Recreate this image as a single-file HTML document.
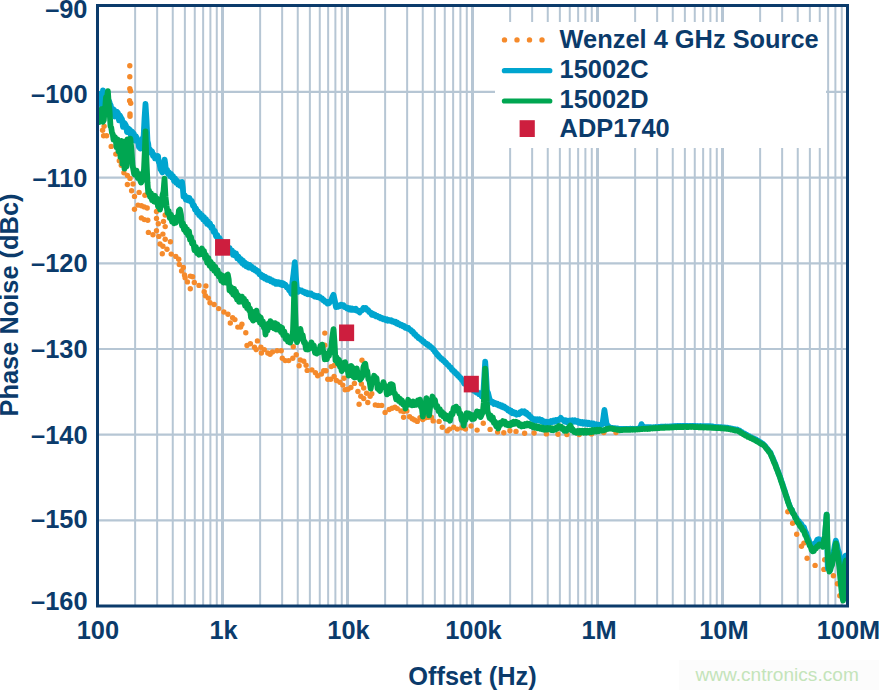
<!DOCTYPE html>
<html><head><meta charset="utf-8"><style>
html,body{margin:0;padding:0;background:#fff;}
body{width:879px;height:690px;overflow:hidden;}
svg{display:block;}
text{font-family:"Liberation Sans",sans-serif;font-weight:bold;fill:#0b3b6b;font-size:25.4px;}
</style></head><body>
<svg width="879" height="690" viewBox="0 0 879 690">
<rect width="879" height="690" fill="#fff"/>
<defs><clipPath id="pc"><rect x="99" y="7" width="747" height="597"/></clipPath></defs>
<g>
<line x1="135.13" y1="6" x2="135.13" y2="605" stroke="#b6c6d4" stroke-width="2"/>
<line x1="157.14" y1="6" x2="157.14" y2="605" stroke="#b6c6d4" stroke-width="2"/>
<line x1="172.76" y1="6" x2="172.76" y2="605" stroke="#b6c6d4" stroke-width="2"/>
<line x1="184.87" y1="6" x2="184.87" y2="605" stroke="#b6c6d4" stroke-width="2"/>
<line x1="194.77" y1="6" x2="194.77" y2="605" stroke="#b6c6d4" stroke-width="2"/>
<line x1="203.14" y1="6" x2="203.14" y2="605" stroke="#b6c6d4" stroke-width="2"/>
<line x1="210.39" y1="6" x2="210.39" y2="605" stroke="#b6c6d4" stroke-width="2"/>
<line x1="216.78" y1="6" x2="216.78" y2="605" stroke="#b6c6d4" stroke-width="2"/>
<line x1="222.50" y1="6" x2="222.50" y2="605" stroke="#b6c6d4" stroke-width="3"/>
<line x1="260.13" y1="6" x2="260.13" y2="605" stroke="#b6c6d4" stroke-width="2"/>
<line x1="282.14" y1="6" x2="282.14" y2="605" stroke="#b6c6d4" stroke-width="2"/>
<line x1="297.76" y1="6" x2="297.76" y2="605" stroke="#b6c6d4" stroke-width="2"/>
<line x1="309.87" y1="6" x2="309.87" y2="605" stroke="#b6c6d4" stroke-width="2"/>
<line x1="319.77" y1="6" x2="319.77" y2="605" stroke="#b6c6d4" stroke-width="2"/>
<line x1="328.14" y1="6" x2="328.14" y2="605" stroke="#b6c6d4" stroke-width="2"/>
<line x1="335.39" y1="6" x2="335.39" y2="605" stroke="#b6c6d4" stroke-width="2"/>
<line x1="341.78" y1="6" x2="341.78" y2="605" stroke="#b6c6d4" stroke-width="2"/>
<line x1="347.50" y1="6" x2="347.50" y2="605" stroke="#b6c6d4" stroke-width="3"/>
<line x1="385.13" y1="6" x2="385.13" y2="605" stroke="#b6c6d4" stroke-width="2"/>
<line x1="407.14" y1="6" x2="407.14" y2="605" stroke="#b6c6d4" stroke-width="2"/>
<line x1="422.76" y1="6" x2="422.76" y2="605" stroke="#b6c6d4" stroke-width="2"/>
<line x1="434.87" y1="6" x2="434.87" y2="605" stroke="#b6c6d4" stroke-width="2"/>
<line x1="444.77" y1="6" x2="444.77" y2="605" stroke="#b6c6d4" stroke-width="2"/>
<line x1="453.14" y1="6" x2="453.14" y2="605" stroke="#b6c6d4" stroke-width="2"/>
<line x1="460.39" y1="6" x2="460.39" y2="605" stroke="#b6c6d4" stroke-width="2"/>
<line x1="466.78" y1="6" x2="466.78" y2="605" stroke="#b6c6d4" stroke-width="2"/>
<line x1="472.50" y1="6" x2="472.50" y2="605" stroke="#b6c6d4" stroke-width="3"/>
<line x1="510.13" y1="6" x2="510.13" y2="605" stroke="#b6c6d4" stroke-width="2"/>
<line x1="532.14" y1="6" x2="532.14" y2="605" stroke="#b6c6d4" stroke-width="2"/>
<line x1="547.76" y1="6" x2="547.76" y2="605" stroke="#b6c6d4" stroke-width="2"/>
<line x1="559.87" y1="6" x2="559.87" y2="605" stroke="#b6c6d4" stroke-width="2"/>
<line x1="569.77" y1="6" x2="569.77" y2="605" stroke="#b6c6d4" stroke-width="2"/>
<line x1="578.14" y1="6" x2="578.14" y2="605" stroke="#b6c6d4" stroke-width="2"/>
<line x1="585.39" y1="6" x2="585.39" y2="605" stroke="#b6c6d4" stroke-width="2"/>
<line x1="591.78" y1="6" x2="591.78" y2="605" stroke="#b6c6d4" stroke-width="2"/>
<line x1="597.50" y1="6" x2="597.50" y2="605" stroke="#b6c6d4" stroke-width="3"/>
<line x1="635.13" y1="6" x2="635.13" y2="605" stroke="#b6c6d4" stroke-width="2"/>
<line x1="657.14" y1="6" x2="657.14" y2="605" stroke="#b6c6d4" stroke-width="2"/>
<line x1="672.76" y1="6" x2="672.76" y2="605" stroke="#b6c6d4" stroke-width="2"/>
<line x1="684.87" y1="6" x2="684.87" y2="605" stroke="#b6c6d4" stroke-width="2"/>
<line x1="694.77" y1="6" x2="694.77" y2="605" stroke="#b6c6d4" stroke-width="2"/>
<line x1="703.14" y1="6" x2="703.14" y2="605" stroke="#b6c6d4" stroke-width="2"/>
<line x1="710.39" y1="6" x2="710.39" y2="605" stroke="#b6c6d4" stroke-width="2"/>
<line x1="716.78" y1="6" x2="716.78" y2="605" stroke="#b6c6d4" stroke-width="2"/>
<line x1="722.50" y1="6" x2="722.50" y2="605" stroke="#b6c6d4" stroke-width="3"/>
<line x1="760.13" y1="6" x2="760.13" y2="605" stroke="#b6c6d4" stroke-width="2"/>
<line x1="782.14" y1="6" x2="782.14" y2="605" stroke="#b6c6d4" stroke-width="2"/>
<line x1="797.76" y1="6" x2="797.76" y2="605" stroke="#b6c6d4" stroke-width="2"/>
<line x1="809.87" y1="6" x2="809.87" y2="605" stroke="#b6c6d4" stroke-width="2"/>
<line x1="819.77" y1="6" x2="819.77" y2="605" stroke="#b6c6d4" stroke-width="2"/>
<line x1="828.14" y1="6" x2="828.14" y2="605" stroke="#b6c6d4" stroke-width="2"/>
<line x1="835.39" y1="6" x2="835.39" y2="605" stroke="#b6c6d4" stroke-width="2"/>
<line x1="841.78" y1="6" x2="841.78" y2="605" stroke="#b6c6d4" stroke-width="2"/>
<line x1="98" y1="91.97" x2="847" y2="91.97" stroke="#b6c6d4" stroke-width="2.2"/>
<line x1="98" y1="177.64" x2="847" y2="177.64" stroke="#b6c6d4" stroke-width="2.2"/>
<line x1="98" y1="263.31" x2="847" y2="263.31" stroke="#b6c6d4" stroke-width="2.2"/>
<line x1="98" y1="348.98" x2="847" y2="348.98" stroke="#b6c6d4" stroke-width="2.2"/>
<line x1="98" y1="434.65" x2="847" y2="434.65" stroke="#b6c6d4" stroke-width="2.2"/>
<line x1="98" y1="520.32" x2="847" y2="520.32" stroke="#b6c6d4" stroke-width="2.2"/>
</g>
<rect x="495" y="22" width="331" height="126" fill="#fff"/>
<g clip-path="url(#pc)">
<g fill="#f58a2b">
<circle cx="129.8" cy="65.7" r="2.7"/>
<circle cx="129.8" cy="76.7" r="2.7"/>
<circle cx="129.8" cy="88.7" r="2.7"/>
<circle cx="130.5" cy="90.9" r="2.7"/>
<circle cx="129.6" cy="100.7" r="2.7"/>
<circle cx="130.7" cy="103.2" r="2.7"/>
<circle cx="130.0" cy="113.9" r="2.7"/>
<circle cx="130.0" cy="116.2" r="2.7"/>
<circle cx="471.0" cy="426.0" r="2.7"/>
<circle cx="477.1" cy="430.1" r="2.7"/>
<circle cx="483.3" cy="423.2" r="2.7"/>
<circle cx="490.1" cy="429.4" r="2.7"/>
<circle cx="497.6" cy="432.1" r="2.7"/>
<circle cx="503.8" cy="432.8" r="2.7"/>
<circle cx="509.9" cy="430.8" r="2.7"/>
<circle cx="516.0" cy="431.4" r="2.7"/>
<circle cx="524.6" cy="433.2" r="2.7"/>
<circle cx="534.1" cy="433.0" r="2.7"/>
<circle cx="546.4" cy="433.9" r="2.7"/>
<circle cx="558.0" cy="434.3" r="2.7"/>
<circle cx="566.9" cy="434.6" r="2.7"/>
<circle cx="579.2" cy="434.6" r="2.7"/>
<circle cx="591.5" cy="433.9" r="2.7"/>
<circle cx="603.8" cy="432.6" r="2.7"/>
<circle cx="616.0" cy="432.6" r="2.7"/>
<circle cx="787.8" cy="511.7" r="2.7"/>
<circle cx="792.6" cy="523.3" r="2.7"/>
<circle cx="796.7" cy="534.3" r="2.7"/>
<circle cx="801.5" cy="546.3" r="2.7"/>
<circle cx="803.9" cy="543.1" r="2.7"/>
<circle cx="807.1" cy="558.2" r="2.7"/>
<circle cx="815.1" cy="565.4" r="2.7"/>
<circle cx="823.9" cy="569.4" r="2.7"/>
<circle cx="824.7" cy="559.8" r="2.7"/>
<circle cx="833.4" cy="575.8" r="2.7"/>
<circle cx="837.4" cy="583.7" r="2.7"/>
<circle cx="839.8" cy="595.7" r="2.7"/>
<circle cx="171.2" cy="254.1" r="2.7"/>
<circle cx="175.8" cy="256.4" r="2.7"/>
<circle cx="178.7" cy="259.3" r="2.7"/>
<circle cx="179.3" cy="264.5" r="2.7"/>
<circle cx="183.3" cy="267.4" r="2.7"/>
<circle cx="181.6" cy="270.9" r="2.7"/>
<circle cx="184.5" cy="274.9" r="2.7"/>
<circle cx="185.1" cy="277.8" r="2.7"/>
<circle cx="187.4" cy="281.9" r="2.7"/>
<circle cx="190.3" cy="276.1" r="2.7"/>
<circle cx="192.6" cy="276.7" r="2.7"/>
<circle cx="194.3" cy="282.5" r="2.7"/>
<circle cx="199.0" cy="285.4" r="2.7"/>
<circle cx="190.3" cy="288.8" r="2.7"/>
<circle cx="205.9" cy="286.0" r="2.7"/>
<circle cx="204.2" cy="291.7" r="2.7"/>
<circle cx="205.4" cy="295.8" r="2.7"/>
<circle cx="208.3" cy="298.1" r="2.7"/>
<circle cx="210.0" cy="302.8" r="2.7"/>
<circle cx="214.1" cy="304.5" r="2.7"/>
<circle cx="218.7" cy="308.6" r="2.7"/>
<circle cx="223.9" cy="312.0" r="2.7"/>
<circle cx="228.0" cy="314.3" r="2.7"/>
<circle cx="232.6" cy="317.8" r="2.7"/>
<circle cx="234.9" cy="319.6" r="2.7"/>
<circle cx="230.3" cy="323.0" r="2.7"/>
<circle cx="237.8" cy="327.1" r="2.7"/>
<circle cx="241.9" cy="324.2" r="2.7"/>
<circle cx="240.6" cy="327.0" r="2.7"/>
<circle cx="245.8" cy="332.8" r="2.7"/>
<circle cx="257.4" cy="340.9" r="2.7"/>
<circle cx="247.0" cy="345.5" r="2.7"/>
<circle cx="250.4" cy="343.8" r="2.7"/>
<circle cx="254.5" cy="347.2" r="2.7"/>
<circle cx="256.2" cy="349.6" r="2.7"/>
<circle cx="260.9" cy="347.2" r="2.7"/>
<circle cx="261.4" cy="353.0" r="2.7"/>
<circle cx="264.3" cy="349.6" r="2.7"/>
<circle cx="267.8" cy="353.0" r="2.7"/>
<circle cx="270.1" cy="354.2" r="2.7"/>
<circle cx="272.5" cy="351.9" r="2.7"/>
<circle cx="277.1" cy="350.7" r="2.7"/>
<circle cx="281.2" cy="350.7" r="2.7"/>
<circle cx="282.3" cy="358.3" r="2.7"/>
<circle cx="285.2" cy="360.6" r="2.7"/>
<circle cx="288.7" cy="360.6" r="2.7"/>
<circle cx="292.8" cy="358.3" r="2.7"/>
<circle cx="296.2" cy="354.8" r="2.7"/>
<circle cx="293.3" cy="346.7" r="2.7"/>
<circle cx="300.3" cy="360.0" r="2.7"/>
<circle cx="303.8" cy="361.2" r="2.7"/>
<circle cx="299.1" cy="365.8" r="2.7"/>
<circle cx="306.1" cy="365.2" r="2.7"/>
<circle cx="307.2" cy="370.4" r="2.7"/>
<circle cx="311.9" cy="369.9" r="2.7"/>
<circle cx="315.4" cy="372.8" r="2.7"/>
<circle cx="317.7" cy="375.7" r="2.7"/>
<circle cx="104.1" cy="126.2" r="2.7"/>
<circle cx="102.6" cy="130.2" r="2.7"/>
<circle cx="103.6" cy="135.8" r="2.7"/>
<circle cx="106.6" cy="135.8" r="2.7"/>
<circle cx="111.2" cy="146.4" r="2.7"/>
<circle cx="115.8" cy="154.1" r="2.7"/>
<circle cx="119.3" cy="160.7" r="2.7"/>
<circle cx="121.3" cy="165.2" r="2.7"/>
<circle cx="123.9" cy="172.8" r="2.7"/>
<circle cx="127.4" cy="175.4" r="2.7"/>
<circle cx="130.0" cy="178.4" r="2.7"/>
<circle cx="127.4" cy="184.5" r="2.7"/>
<circle cx="133.0" cy="184.0" r="2.7"/>
<circle cx="131.6" cy="190.7" r="2.7"/>
<circle cx="134.5" cy="196.4" r="2.7"/>
<circle cx="139.1" cy="192.4" r="2.7"/>
<circle cx="144.9" cy="195.3" r="2.7"/>
<circle cx="138.0" cy="205.1" r="2.7"/>
<circle cx="141.4" cy="205.7" r="2.7"/>
<circle cx="144.3" cy="206.9" r="2.7"/>
<circle cx="147.2" cy="208.0" r="2.7"/>
<circle cx="134.5" cy="209.2" r="2.7"/>
<circle cx="156.5" cy="211.5" r="2.7"/>
<circle cx="165.2" cy="215.0" r="2.7"/>
<circle cx="141.4" cy="217.9" r="2.7"/>
<circle cx="144.3" cy="219.6" r="2.7"/>
<circle cx="147.8" cy="220.2" r="2.7"/>
<circle cx="156.5" cy="218.5" r="2.7"/>
<circle cx="158.3" cy="223.7" r="2.7"/>
<circle cx="163.5" cy="221.4" r="2.7"/>
<circle cx="165.2" cy="226.6" r="2.7"/>
<circle cx="148.4" cy="232.4" r="2.7"/>
<circle cx="153.0" cy="234.7" r="2.7"/>
<circle cx="156.5" cy="230.7" r="2.7"/>
<circle cx="158.8" cy="236.4" r="2.7"/>
<circle cx="162.9" cy="234.1" r="2.7"/>
<circle cx="165.2" cy="239.3" r="2.7"/>
<circle cx="170.4" cy="241.7" r="2.7"/>
<circle cx="160.0" cy="244.0" r="2.7"/>
<circle cx="162.9" cy="246.3" r="2.7"/>
<circle cx="167.0" cy="249.2" r="2.7"/>
<circle cx="162.3" cy="253.8" r="2.7"/>
<circle cx="321.4" cy="374.1" r="2.7"/>
<circle cx="323.7" cy="370.7" r="2.7"/>
<circle cx="326.0" cy="370.7" r="2.7"/>
<circle cx="331.2" cy="366.6" r="2.7"/>
<circle cx="334.1" cy="365.4" r="2.7"/>
<circle cx="327.8" cy="379.3" r="2.7"/>
<circle cx="330.7" cy="379.3" r="2.7"/>
<circle cx="334.1" cy="376.4" r="2.7"/>
<circle cx="336.4" cy="380.5" r="2.7"/>
<circle cx="339.9" cy="382.2" r="2.7"/>
<circle cx="342.8" cy="385.1" r="2.7"/>
<circle cx="345.1" cy="389.8" r="2.7"/>
<circle cx="348.0" cy="389.2" r="2.7"/>
<circle cx="350.9" cy="387.5" r="2.7"/>
<circle cx="354.4" cy="383.4" r="2.7"/>
<circle cx="344.0" cy="378.2" r="2.7"/>
<circle cx="362.0" cy="360.2" r="2.7"/>
<circle cx="361.4" cy="384.0" r="2.7"/>
<circle cx="363.7" cy="388.0" r="2.7"/>
<circle cx="357.9" cy="391.5" r="2.7"/>
<circle cx="360.8" cy="396.2" r="2.7"/>
<circle cx="363.7" cy="398.5" r="2.7"/>
<circle cx="359.1" cy="404.3" r="2.7"/>
<circle cx="366.6" cy="393.3" r="2.7"/>
<circle cx="370.1" cy="396.2" r="2.7"/>
<circle cx="371.8" cy="393.8" r="2.7"/>
<circle cx="367.8" cy="402.5" r="2.7"/>
<circle cx="375.3" cy="404.9" r="2.7"/>
<circle cx="378.2" cy="405.4" r="2.7"/>
<circle cx="381.7" cy="405.4" r="2.7"/>
<circle cx="385.1" cy="412.4" r="2.7"/>
<circle cx="389.2" cy="409.5" r="2.7"/>
<circle cx="392.1" cy="408.3" r="2.7"/>
<circle cx="395.0" cy="407.3" r="2.7"/>
<circle cx="397.3" cy="408.6" r="2.7"/>
<circle cx="400.9" cy="410.9" r="2.7"/>
<circle cx="403.6" cy="411.4" r="2.7"/>
<circle cx="406.8" cy="410.9" r="2.7"/>
<circle cx="403.6" cy="417.3" r="2.7"/>
<circle cx="409.6" cy="416.8" r="2.7"/>
<circle cx="412.3" cy="418.7" r="2.7"/>
<circle cx="414.6" cy="420.0" r="2.7"/>
<circle cx="417.3" cy="421.4" r="2.7"/>
<circle cx="420.0" cy="417.7" r="2.7"/>
<circle cx="422.8" cy="419.6" r="2.7"/>
<circle cx="425.5" cy="417.7" r="2.7"/>
<circle cx="428.2" cy="417.3" r="2.7"/>
<circle cx="431.4" cy="417.3" r="2.7"/>
<circle cx="433.2" cy="420.9" r="2.7"/>
<circle cx="439.1" cy="421.4" r="2.7"/>
<circle cx="442.3" cy="427.3" r="2.7"/>
<circle cx="447.3" cy="430.9" r="2.7"/>
<circle cx="449.6" cy="429.1" r="2.7"/>
<circle cx="453.7" cy="427.3" r="2.7"/>
<circle cx="457.3" cy="429.1" r="2.7"/>
<circle cx="461.9" cy="427.8" r="2.7"/>
<circle cx="465.5" cy="429.1" r="2.7"/>
<circle cx="324.8" cy="333.1" r="2.7"/>
<circle cx="324.8" cy="345.3" r="2.7"/>
</g>
<polyline points="98.5,99.9 99.2,99.2 100.0,93.8 100.8,102.0 101.5,105.0 102.2,100.7 103.0,90.5 103.8,99.0 104.5,102.3 105.2,100.8 106.0,94.0 106.8,102.3 107.5,104.9 108.2,105.4 109.0,100.9 110.0,103.8 110.8,105.7 111.5,113.1 112.2,108.5 113.0,109.3 114.0,109.7 115.0,116.5 116.0,111.6 117.0,111.8 118.0,113.0 119.0,120.3 120.0,115.7 121.0,117.8 122.0,119.4 123.0,126.8 124.0,122.7 125.0,123.8 126.0,125.6 127.0,132.1 128.0,128.2 129.0,129.4 130.0,129.9 131.0,136.4 132.0,131.6 133.0,132.8 134.0,134.1 135.0,140.6 136.0,136.4 137.0,138.5 138.0,140.5 139.0,147.2 139.8,145.3 140.5,148.6 141.2,143.5 142.0,143.3 142.8,138.0 143.5,138.9 144.5,118.8 145.5,103.9 146.5,120.0 147.5,141.1 148.2,143.7 149.0,151.1 150.0,149.5 151.0,152.8 152.0,151.3 153.0,155.9 154.0,154.7 155.0,158.4 156.0,157.1 157.0,159.0 158.0,155.9 158.8,162.2 159.5,163.5 160.5,169.3 161.5,170.6 162.4,172.4 163.3,168.1 164.6,159.6 165.2,163.2 165.9,170.6 167.0,169.6 168.0,173.8 169.0,172.4 170.0,176.0 171.0,173.9 172.0,177.5 173.0,176.1 174.0,181.0 175.1,178.4 176.2,182.9 177.1,180.6 178.1,184.5 179.0,182.4 180.0,185.8 181.0,182.3 182.0,181.9 182.8,187.7 183.5,196.5 184.7,195.2 185.8,199.5 187.0,197.3 188.2,200.3 189.5,198.1 190.7,201.5 191.8,201.0 192.9,205.6 194.0,205.2 195.0,209.6 196.0,208.4 197.0,212.5 198.0,211.3 199.0,215.1 200.0,213.3 201.0,216.9 202.0,215.3 203.0,219.2 204.0,217.2 205.0,221.2 206.0,219.1 207.0,223.8 208.0,221.5 209.0,225.0 210.0,223.5 211.2,227.7 212.4,226.8 213.6,231.9 214.8,231.0 216.0,236.2 217.2,235.0 218.4,239.7 219.6,238.1 220.8,242.9 222.0,241.4 223.2,245.1 224.5,242.9 225.8,247.0 227.0,245.5 228.2,249.4 229.5,248.0 230.8,252.1 232.0,250.6 233.0,254.7 234.0,252.4 235.0,255.6 236.0,253.4 237.2,258.4 238.5,256.6 239.8,260.7 241.0,259.0 242.0,263.0 243.0,260.6 244.0,264.7 245.0,262.6 246.2,266.3 247.3,264.0 248.4,267.5 249.6,264.9 250.7,267.8 251.8,266.9 252.9,269.1 254.0,268.4 255.1,270.5 256.1,269.9 257.2,271.8 258.3,271.3 259.5,274.3 260.8,274.4 262.0,277.1 263.2,275.9 264.5,278.5 265.8,277.2 267.0,279.6 268.0,278.2 269.0,280.2 270.0,279.0 271.0,281.3 272.2,280.3 273.4,282.5 274.5,281.6 275.7,283.7 276.8,282.0 277.9,283.8 278.9,282.3 280.0,284.1 281.1,282.8 282.1,285.0 283.2,283.4 284.3,285.1 285.5,284.8 286.8,287.4 288.0,287.1 289.1,290.4 290.2,290.4 291.3,293.7 292.5,281.8 293.6,273.2 294.8,262.2 295.9,277.2 297.0,290.1 298.1,291.8 299.3,289.9 300.4,290.7 301.6,290.5 302.8,292.0 304.0,291.6 305.1,293.2 306.3,292.6 307.4,294.1 308.6,293.2 309.8,294.3 311.0,293.5 312.1,295.1 313.2,294.9 314.3,296.4 315.5,295.7 316.8,297.0 318.0,296.1 319.1,297.6 320.2,297.2 321.3,298.7 322.2,298.4 323.1,300.3 324.0,300.1 325.1,301.8 326.3,301.7 327.4,303.5 328.3,302.3 329.1,303.2 330.0,301.9 331.2,300.4 332.3,297.3 333.5,294.8 334.8,300.6 336.0,307.1 337.0,306.1 338.0,306.8 339.0,305.5 340.1,306.1 341.1,304.7 342.2,305.1 343.5,305.1 344.7,307.2 346.0,307.1 347.0,308.4 348.0,308.0 349.0,309.4 350.0,308.4 351.0,309.6 352.0,308.6 353.0,309.7 354.0,309.0 355.0,310.0 356.0,308.9 357.2,310.9 358.4,310.7 359.6,312.5 360.9,310.4 362.2,310.3 363.5,308.0 364.8,308.1 365.9,308.0 366.9,309.9 368.0,309.8 369.2,312.1 370.5,312.3 371.7,314.6 372.8,313.8 373.9,315.3 375.0,314.8 376.2,316.4 377.5,316.0 378.7,317.5 379.8,317.0 380.9,318.4 382.0,317.9 383.2,319.4 384.5,318.8 385.7,320.2 386.8,319.4 387.9,320.7 388.9,319.9 390.0,320.9 391.1,320.3 392.1,321.6 393.2,321.1 394.3,322.3 395.4,321.8 396.4,323.4 397.5,322.8 398.5,324.4 399.6,324.0 400.7,325.4 401.8,324.9 402.9,326.4 404.0,326.0 405.1,327.7 406.2,327.3 407.4,328.6 408.5,328.1 409.6,329.7 410.8,329.8 411.9,331.7 413.0,331.6 414.1,334.0 415.2,334.1 416.3,336.2 417.4,336.4 418.5,338.1 419.7,338.2 420.9,340.0 422.0,340.0 423.0,341.8 424.0,341.7 425.0,343.4 426.0,343.4 427.0,344.8 428.0,344.5 429.0,346.1 430.0,345.9 431.0,347.7 432.0,347.6 433.0,349.5 434.0,349.8 435.0,352.1 436.0,352.6 437.0,354.6 438.0,354.9 439.0,356.9 440.0,357.1 441.0,358.9 442.0,358.8 443.0,360.6 444.0,360.5 445.0,362.4 446.0,362.6 447.0,364.5 448.2,364.9 449.5,367.0 450.8,367.5 452.0,370.0 453.0,370.0 454.0,372.0 455.0,372.0 456.0,373.7 457.0,373.9 458.0,375.9 459.0,376.1 460.0,378.0 461.0,378.2 462.0,380.2 463.1,381.0 464.3,383.7 465.4,383.7 466.6,385.7 467.7,385.7 468.9,387.6 470.0,387.6 471.3,389.2 472.6,389.1 473.9,390.9 475.2,390.7 476.5,392.7 477.8,392.4 479.1,394.2 480.4,393.9 481.7,396.2 482.6,392.1 483.5,390.4 484.4,375.1 485.2,361.6 486.1,375.3 487.0,390.9 488.1,393.1 489.3,398.2 490.4,400.6 491.6,402.6 492.8,402.0 494.0,403.9 495.1,403.0 496.3,404.4 497.4,403.8 498.5,405.4 499.7,404.7 500.9,406.4 502.0,405.6 503.1,407.3 504.3,406.6 505.5,408.6 506.8,408.1 508.0,410.4 509.1,409.7 510.1,411.7 511.2,410.9 512.3,413.1 513.4,412.0 514.5,413.6 515.5,412.9 516.6,414.6 517.7,413.7 518.8,414.3 519.9,412.4 521.0,413.0 522.1,411.3 523.2,411.9 524.3,411.3 525.4,413.6 526.5,412.8 527.6,414.9 528.7,414.5 529.7,416.7 530.8,416.7 531.8,418.9 532.8,418.6 533.9,420.2 535.1,419.3 536.2,420.6 537.3,419.3 538.5,420.5 539.6,419.4 540.8,421.1 541.9,420.1 543.1,422.1 544.3,421.4 545.5,422.9 546.6,421.8 547.8,423.4 548.9,421.9 550.1,422.6 551.2,421.0 552.3,422.0 553.5,420.6 554.6,421.6 555.9,420.0 557.2,421.3 558.5,419.7 559.6,419.5 560.8,417.8 561.9,419.4 563.0,419.7 564.2,421.4 565.5,420.4 566.7,422.1 567.9,420.7 569.1,422.0 570.2,420.5 571.4,421.8 572.6,420.4 573.8,421.7 575.0,420.4 576.2,421.8 577.4,421.1 578.6,422.7 579.7,421.7 580.9,423.3 582.1,422.1 583.3,423.7 584.4,422.3 585.5,423.8 586.6,422.5 587.8,424.2 588.9,422.9 590.0,424.3 591.2,423.3 592.4,424.7 593.6,423.6 594.9,425.2 596.1,424.4 597.3,425.9 598.5,424.9 599.7,426.3 600.6,424.9 601.6,424.7 602.5,423.7 603.5,417.0 604.4,410.0 605.5,417.1 606.5,423.7 607.4,425.2 608.3,426.1 609.2,427.6 610.4,427.5 611.6,428.1 612.8,427.9 614.0,428.3 615.2,428.2 616.4,428.6 617.6,428.5 618.8,429.0 620.0,428.8 621.3,429.1 622.5,428.8 623.8,429.1 625.0,428.8 626.3,429.1 627.6,428.8 628.8,429.1 630.1,428.7 631.4,429.0 632.6,428.7 633.9,429.1 635.1,428.8 636.4,429.2 637.6,428.7 638.8,428.8 640.0,428.3 640.8,426.4 641.5,424.1 642.2,425.9 643.0,427.3 644.3,427.5 645.6,427.1 646.9,427.4 648.2,427.1 649.4,427.5 650.7,427.1 652.0,427.6 653.3,427.2 654.6,427.4 655.8,427.0 657.0,427.3 658.3,426.9 659.5,427.1 660.7,426.7 661.9,426.9 663.1,426.6 664.4,426.9 665.6,426.5 666.8,426.8 668.0,426.5 669.2,426.7 670.5,426.4 671.7,426.6 672.9,426.1 674.1,426.4 675.3,426.0 676.5,426.2 677.8,425.9 679.0,426.2 680.2,425.9 681.4,426.1 682.6,425.9 683.8,426.1 685.0,425.8 686.2,426.2 687.5,425.9 688.7,426.3 689.9,425.9 691.1,426.2 692.4,425.8 693.7,426.1 695.0,425.9 696.3,426.2 697.6,426.0 698.9,426.3 700.2,426.0 701.5,426.4 702.8,426.1 704.1,426.4 705.4,426.1 706.7,426.4 708.0,426.1 709.3,426.4 710.5,426.2 711.7,426.6 712.9,426.4 714.2,426.9 715.4,426.8 716.6,427.2 717.8,427.0 719.0,427.4 720.2,427.1 721.4,427.5 722.6,427.3 723.9,427.6 725.1,427.5 726.3,427.8 727.5,427.6 728.7,428.1 729.9,428.1 731.1,428.7 732.3,428.6 733.6,429.2 734.8,429.1 736.0,429.7 737.2,429.5 738.4,430.2 739.6,430.5 740.8,431.7 742.0,432.1 743.3,433.2 744.5,433.6 745.7,434.6 746.9,434.9 748.0,435.8 749.1,436.1 750.3,437.0 751.4,437.3 752.6,438.2 753.7,438.3 754.9,439.2 756.0,439.4 757.1,440.4 758.3,440.8 759.4,441.8 760.5,442.2 761.6,443.2 762.8,443.7 763.9,444.8 765.2,446.1 766.5,448.0 767.7,449.3 769.0,451.2 770.3,452.4 771.5,455.5 772.7,457.9 773.9,461.0 775.1,463.5 776.3,467.1 777.5,470.0 778.7,473.5 779.9,476.3 781.1,480.2 782.3,483.4 783.5,487.3 784.7,490.7 785.9,494.6 787.0,497.9 788.2,501.9 789.4,505.1 790.6,508.2 791.8,509.8 793.0,513.1 794.2,514.3 795.3,517.0 796.4,517.8 797.5,520.8 798.8,521.1 800.1,523.5 801.3,524.0 802.6,526.5 803.9,527.1 805.1,531.0 806.3,533.2 807.5,537.4 808.7,539.8 809.7,542.8 810.7,543.8 811.7,546.4 812.7,547.2 813.8,546.1 814.9,543.3 816.1,542.4 817.2,539.8 818.3,539.2 819.5,539.3 820.7,541.3 821.9,541.4 823.1,543.2 824.0,539.7 825.0,537.8 825.8,525.5 826.6,514.6 827.8,568.4 828.9,568.5 829.9,566.6 831.0,566.5 832.2,558.9 833.4,553.4 834.6,546.1 835.8,540.7 836.9,544.3 837.9,549.5 839.0,552.7 840.1,566.3 841.1,578.0 842.2,591.5 843.4,573.6 844.6,557.7 845.3,555.8 846.0,555.6" fill="none" stroke="#00a5cf" stroke-width="5.8" stroke-linejoin="round" stroke-linecap="round"/>
<polyline points="98.5,114.3 99.2,122.2 100.0,120.7 100.8,118.9 101.5,109.1 102.2,119.5 103.0,121.7 103.8,120.2 104.5,111.8 105.2,107.8 106.0,97.3 107.0,97.1 107.9,91.1 108.7,103.6 109.5,110.1 110.5,126.1 111.2,127.5 112.0,132.9 112.8,134.3 113.5,139.6 114.2,136.7 115.0,137.2 115.8,140.3 116.5,147.3 117.5,139.3 118.5,151.2 119.5,140.9 120.5,157.0 121.5,141.0 122.5,163.8 123.5,142.0 124.5,168.7 125.5,141.4 126.5,166.4 127.5,139.5 128.5,160.3 129.4,147.4 130.3,138.6 131.5,150.0 132.5,165.1 133.5,170.5 134.2,174.3 135.0,174.8 135.8,174.5 136.5,170.6 137.2,176.5 138.0,178.2 138.8,178.2 139.5,174.1 140.2,180.4 141.0,182.6 141.8,181.4 142.5,176.6 143.2,174.9 144.0,169.3 144.8,151.9 145.5,131.3 146.5,161.3 147.5,182.8 148.2,192.3 149.0,190.5 150.0,196.7 151.0,193.2 152.0,200.1 153.0,195.9 154.0,201.5 155.0,195.8 156.0,202.3 157.0,198.6 158.0,206.4 159.0,203.6 160.0,209.6 161.0,205.0 161.8,205.2 162.5,195.0 163.5,191.5 164.5,178.6 165.5,196.7 166.5,205.6 167.6,213.0 168.7,211.1 169.8,218.0 171.0,214.7 172.0,221.6 173.0,217.5 174.0,223.3 175.0,218.9 176.0,222.6 177.0,217.0 178.0,219.7 178.9,210.6 179.9,209.6 180.9,214.3 182.0,225.8 183.0,223.5 184.0,229.8 185.0,226.6 186.0,232.4 187.0,229.3 188.0,235.2 189.0,231.2 190.0,239.7 191.0,236.9 192.0,243.6 193.2,242.1 194.5,250.3 195.8,246.9 197.0,253.0 198.0,249.7 199.0,254.7 200.0,250.3 201.0,254.2 202.0,248.5 203.0,254.4 204.0,251.1 205.0,258.1 206.0,255.1 207.2,262.9 208.4,258.1 209.6,265.7 210.7,261.8 211.9,268.5 213.0,264.4 214.2,270.8 215.3,266.7 216.5,273.6 217.7,270.2 218.8,276.4 220.0,274.1 221.2,280.7 222.3,275.6 223.5,282.6 224.8,277.4 226.0,282.6 226.9,275.2 227.8,274.6 228.7,279.2 229.5,290.3 230.4,286.5 231.3,292.1 232.2,288.0 233.1,294.4 234.1,288.8 235.0,296.0 236.0,291.6 237.0,299.5 238.0,295.1 239.0,301.8 240.0,296.8 241.0,301.5 242.0,296.7 243.0,302.0 244.0,298.7 245.0,305.7 246.0,301.4 247.0,308.2 248.0,304.3 249.0,310.3 250.0,308.6 251.0,317.5 252.2,318.6 253.1,320.6 254.0,311.9 255.2,317.4 256.5,310.7 257.8,319.6 259.0,315.9 259.9,322.7 260.8,317.6 261.7,324.4 262.9,321.4 264.0,328.1 264.8,326.8 265.5,334.5 266.5,327.4 267.5,330.5 268.5,323.5 269.4,327.5 270.4,321.2 271.6,327.1 272.8,323.0 274.0,328.4 275.1,323.1 276.3,329.5 277.4,324.3 278.6,329.7 279.8,326.4 281.0,332.1 282.1,327.8 283.2,335.2 284.3,331.5 285.5,339.1 286.8,335.5 288.0,341.6 289.1,337.2 290.2,342.6 291.3,338.4 292.1,339.1 293.0,330.3 293.7,310.9 294.4,283.6 295.2,312.3 296.0,333.6 297.0,342.1 298.0,338.6 299.2,338.9 300.4,329.0 301.6,336.1 302.7,335.2 303.9,342.4 304.9,342.0 306.0,349.3 307.0,344.9 308.1,349.5 309.1,345.4 310.3,348.0 311.4,342.4 312.6,346.5 313.8,345.6 315.0,352.7 315.9,349.9 316.9,353.6 317.8,350.0 319.1,352.5 320.4,345.9 321.3,349.5 322.2,344.6 323.1,351.5 323.9,352.0 324.8,359.3 325.9,355.2 326.9,359.1 328.0,353.7 329.0,355.8 330.0,350.1 331.0,352.6 332.2,338.0 333.5,329.1 334.5,342.2 335.5,360.3 336.7,357.4 337.8,363.4 339.0,359.8 339.9,366.5 340.8,365.4 341.7,371.1 342.9,363.4 344.0,362.7 345.1,362.3 346.3,369.2 347.5,368.3 348.6,375.7 349.8,366.8 351.0,365.9 352.1,367.0 353.3,376.7 354.4,377.5 355.5,377.3 356.7,368.3 357.9,375.4 359.0,373.8 360.2,379.7 361.4,378.0 362.4,376.2 363.4,367.0 364.4,364.6 365.3,363.9 366.3,370.9 367.2,370.8 368.4,379.4 369.5,380.7 370.7,388.7 371.9,381.3 373.0,382.6 374.1,375.8 375.3,377.2 376.5,378.1 377.6,388.7 378.8,389.5 380.0,390.9 381.1,385.5 382.3,387.1 383.4,382.1 384.6,385.9 385.7,386.0 386.9,394.4 388.0,392.7 389.2,393.0 390.3,384.4 391.5,384.2 392.7,385.0 393.8,393.2 395.0,393.5 396.2,399.3 397.5,396.3 398.8,400.9 400.0,398.7 401.0,402.9 402.0,400.4 403.0,404.4 404.2,403.4 405.5,408.5 406.4,403.2 407.3,404.7 408.2,399.8 409.5,404.6 410.7,401.9 412.0,405.2 413.2,401.6 414.3,405.0 415.5,402.5 416.6,404.6 417.8,400.5 418.9,403.1 420.0,399.6 420.9,407.0 421.9,408.1 422.8,416.5 424.0,407.9 425.2,406.4 426.4,398.1 427.3,405.8 428.2,407.8 429.1,415.3 430.2,406.1 431.4,403.3 432.5,396.5 433.7,400.7 434.9,400.1 436.1,407.3 437.3,406.0 438.5,411.0 439.8,409.2 441.0,414.9 442.1,411.9 443.2,416.2 444.2,414.0 445.3,418.6 446.4,415.4 447.6,419.1 448.8,416.3 450.0,420.7 451.2,413.8 452.5,414.3 453.7,407.9 454.9,410.6 456.1,406.6 457.3,408.9 458.4,408.7 459.4,413.8 460.5,413.6 461.6,420.3 462.6,419.4 463.7,425.6 464.6,419.1 465.6,420.0 466.5,413.1 467.6,416.6 468.8,413.4 469.9,417.1 471.0,414.6 472.0,419.0 473.1,415.6 474.1,418.8 475.1,414.7 476.1,416.0 477.0,411.4 478.0,414.8 479.3,411.9 480.6,417.1 481.9,414.1 482.9,411.8 483.8,402.5 484.5,387.5 485.2,368.6 486.0,386.7 486.8,401.9 487.6,411.5 488.5,414.1 489.6,418.1 490.6,415.4 491.7,419.8 492.8,417.3 493.9,422.9 495.0,421.6 496.1,426.2 497.2,423.7 498.3,428.5 499.2,423.1 500.1,425.4 501.0,422.6 501.9,423.6 502.9,421.1 503.8,422.0 504.9,421.7 506.0,424.6 507.1,423.5 508.1,425.3 509.2,424.1 510.3,425.2 511.5,422.8 512.6,424.2 513.7,421.8 514.9,423.6 516.0,421.7 517.1,423.5 518.2,422.7 519.4,425.4 520.5,424.4 521.6,426.5 522.8,424.7 523.9,426.0 525.0,424.1 526.2,425.4 527.3,423.5 528.4,425.3 529.6,424.1 530.7,425.9 531.8,425.0 533.0,427.1 534.1,425.7 535.2,427.6 536.4,426.2 537.5,428.1 538.7,426.8 539.9,428.6 541.0,427.4 542.1,429.1 543.3,427.8 544.4,429.8 545.5,428.2 546.7,429.5 547.8,428.1 548.9,429.2 550.1,428.0 551.2,429.9 552.3,428.2 553.5,430.1 554.6,428.6 555.7,429.5 556.8,427.2 557.9,428.3 559.0,426.0 560.1,427.2 561.2,426.7 562.3,429.1 563.3,428.3 564.4,430.8 565.5,429.9 566.5,430.7 567.5,428.5 568.5,429.4 569.4,426.6 570.3,425.6 571.1,427.1 572.0,430.3 573.0,429.6 574.1,431.9 575.1,431.2 576.3,432.6 577.6,431.1 578.8,432.7 580.0,430.8 581.3,432.5 582.5,430.9 583.8,432.6 585.0,430.9 586.2,432.6 587.5,430.8 588.7,432.2 589.9,430.8 591.2,432.1 592.4,430.1 593.7,431.8 594.9,430.1 596.2,431.5 597.4,429.7 598.7,431.1 599.9,429.7 601.2,430.7 602.4,430.4 603.5,430.4 604.7,429.7 605.8,429.7 606.9,428.9 608.1,428.9 609.2,428.3 610.4,428.7 611.6,428.6 612.8,429.0 614.0,428.9 615.2,429.4 616.4,429.3 617.6,429.9 618.8,429.7 620.0,430.3 621.3,429.9 622.5,430.1 623.8,429.7 625.0,429.9 626.3,429.5 627.6,429.9 628.8,429.6 630.1,429.9 631.4,429.5 632.6,429.8 633.9,429.4 635.1,429.7 636.4,429.3 637.6,429.5 638.8,429.2 640.0,429.3 641.3,428.9 642.5,429.1 643.7,428.7 644.9,429.0 646.1,428.7 647.3,429.0 648.5,428.6 649.7,428.8 651.0,428.3 652.2,428.5 653.4,428.1 654.6,428.4 655.8,428.0 657.0,428.3 658.3,427.9 659.5,428.1 660.7,427.7 661.9,427.9 663.1,427.5 664.4,427.8 665.6,427.3 666.8,427.6 668.0,427.3 669.2,427.6 670.5,427.3 671.7,427.5 672.9,427.1 674.1,427.3 675.3,427.0 676.5,427.3 677.8,426.9 679.0,427.2 680.2,426.9 681.4,427.2 682.6,426.8 683.8,427.1 685.0,426.7 686.2,427.1 687.5,426.8 688.7,427.1 689.9,426.7 691.1,427.0 692.4,426.7 693.7,427.1 695.0,426.8 696.3,427.2 697.6,427.0 698.9,427.3 700.2,427.0 701.5,427.4 702.8,427.0 704.1,427.5 705.4,427.2 706.7,427.6 708.0,427.3 709.3,427.6 710.5,427.4 711.7,427.8 712.9,427.6 714.2,428.0 715.4,427.8 716.6,428.2 717.8,427.9 719.0,428.2 720.2,428.0 721.4,428.4 722.6,428.2 723.9,428.6 725.1,428.4 726.3,428.8 727.5,428.6 728.7,429.1 729.9,429.1 731.1,429.7 732.3,429.6 733.6,430.2 734.8,430.2 736.0,430.7 737.2,430.6 738.4,431.2 739.6,431.7 740.8,432.7 742.0,433.2 743.3,434.3 744.5,434.7 745.7,435.7 746.9,436.0 748.0,436.9 749.1,437.1 750.3,438.0 751.4,438.1 752.6,439.1 753.7,439.4 754.9,440.3 756.0,440.5 757.1,441.5 758.3,441.9 759.4,442.9 760.5,443.3 761.6,444.2 762.8,444.6 763.9,445.5 765.2,446.8 766.5,448.7 767.7,449.9 769.0,451.9 770.3,453.2 771.5,456.3 772.7,458.9 773.9,462.1 775.1,464.5 776.3,468.0 777.5,470.8 778.7,474.2 779.9,477.1 781.1,481.1 782.3,484.5 783.5,488.4 784.7,491.7 785.9,495.5 787.0,498.7 788.2,502.6 789.4,505.8 790.6,508.6 791.8,510.0 793.0,513.4 794.2,514.8 795.3,518.0 796.4,519.2 797.5,522.4 798.8,523.5 800.1,526.3 801.3,527.3 802.6,530.1 803.9,531.0 805.1,534.9 806.3,536.8 807.5,540.6 808.7,542.6 809.7,545.7 810.7,546.9 811.7,550.1 812.7,551.3 813.8,550.9 814.9,548.7 816.0,548.4 817.0,546.4 818.1,546.4 819.2,544.4 820.2,544.7 821.5,544.6 822.8,546.7 823.9,540.2 825.0,535.6 825.9,524.2 826.7,514.6 828.0,559.1 828.7,566.3 829.4,571.6 830.3,570.1 831.1,566.7 832.0,565.1 833.3,557.4 834.6,551.5 835.9,543.4 836.8,549.7 837.6,553.9 838.5,560.0 839.6,570.5 840.7,582.6 841.8,592.9 842.5,597.7 843.1,600.6 844.4,567.6 845.2,562.9 846.0,560.4" fill="none" stroke="#00a651" stroke-width="5.8" stroke-linejoin="round" stroke-linecap="round"/>
<rect x="215.05" y="239.10" width="15.1" height="16.6" fill="#cd1e3e"/>
<rect x="339.05" y="324.50" width="15.1" height="16.6" fill="#cd1e3e"/>
<rect x="463.75" y="375.80" width="15.1" height="16.6" fill="#cd1e3e"/>
</g>
<rect x="97.5" y="5.5" width="750" height="600.5" fill="none" stroke="#0b3b6b" stroke-width="3"/>
<text x="87.5" y="17.6" text-anchor="end">&#8211;90</text>
<text x="87.5" y="103.2" text-anchor="end">&#8211;100</text>
<text x="87.5" y="187.4" text-anchor="end">&#8211;110</text>
<text x="87.5" y="272.4" text-anchor="end">&#8211;120</text>
<text x="87.5" y="358.4" text-anchor="end">&#8211;130</text>
<text x="87.5" y="443.6" text-anchor="end">&#8211;140</text>
<text x="87.5" y="528.4" text-anchor="end">&#8211;150</text>
<text x="87.5" y="610.1" text-anchor="end">&#8211;160</text>
<text x="97.9" y="639" text-anchor="middle">100</text>
<text x="223.5" y="639" text-anchor="middle">1k</text>
<text x="348.5" y="639" text-anchor="middle">10k</text>
<text x="473.5" y="639" text-anchor="middle">100k</text>
<text x="599.1" y="639" text-anchor="middle">1M</text>
<text x="723.9" y="639" text-anchor="middle">10M</text>
<text x="848.5" y="639" text-anchor="middle">100M</text>
<text x="472.5" y="684.6" text-anchor="middle">Offset (Hz)</text>
<text transform="translate(18.3,305) rotate(-90)" text-anchor="middle">Phase Noise (dBc)</text>
<g fill="#f58a2b">
<circle cx="504.5" cy="39.9" r="2.7"/><circle cx="517" cy="39.9" r="2.7"/><circle cx="529.5" cy="39.9" r="2.7"/><circle cx="542" cy="39.9" r="2.7"/>
</g>
<line x1="504.4" y1="70.7" x2="549.8" y2="70.7" stroke="#00a5cf" stroke-width="5.2" stroke-linecap="round"/>
<line x1="504.4" y1="101" x2="549.8" y2="101" stroke="#00a651" stroke-width="5.2" stroke-linecap="round"/>
<rect x="519.6" y="120.2" width="15.2" height="16.8" fill="#cd1e3e"/>
<text x="559.6" y="48" >Wenzel 4 GHz Source</text>
<text x="559.6" y="78.3">15002C</text>
<text x="559.6" y="107.6">15002D</text>
<text x="559.6" y="137.2">ADP1740</text>
<rect x="679" y="660" width="200" height="30" fill="#fcfcfc"/>
<text x="695.4" y="680.6" style="font-weight:normal;font-size:19.1px;fill:#c4e4ba">www.cntronics.com</text>
</svg>
</body></html>
